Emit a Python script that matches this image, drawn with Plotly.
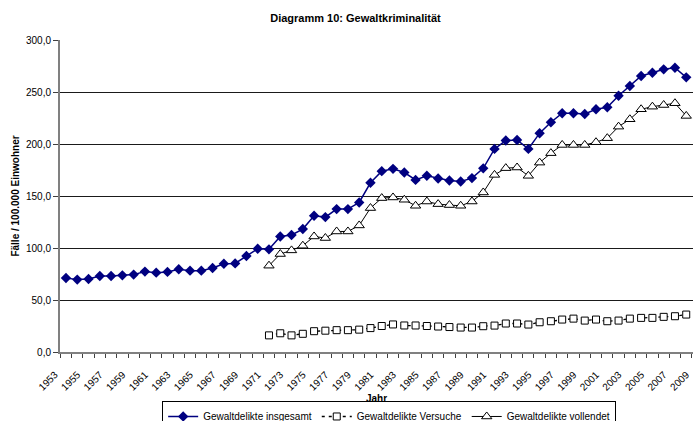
import plotly.graph_objects as go

years = list(range(1953, 2009))
insgesamt = [71.2, 69.6, 70.2, 73.1, 73.1, 73.7, 74.4, 77.3, 76.3, 77.0,
             79.5, 78.2, 78.2, 80.8, 84.9, 85.2, 92.3, 99.3, 98.7, 111.1,
             112.5, 118.2, 131.0, 129.7, 137.4, 137.4, 143.8, 162.7, 173.9, 176.1,
             172.6, 165.5, 169.4, 166.8, 164.9, 163.9, 167.2, 176.6, 195.3, 203.3,
             203.9, 195.3, 210.4, 220.9, 229.6, 229.6, 228.9, 233.4, 235.3, 246.4,
             255.8, 265.4, 268.5, 271.8, 273.3, 264.1]
sub_years = list(range(1971, 2009))
versuche = [16.0, 18.0, 16.0, 17.5, 20.0, 20.5, 21.0, 21.0, 21.5, 23.0,
            25.0, 26.5, 25.5, 25.5, 25.0, 24.5, 24.0, 23.5, 23.5, 24.8,
            25.4, 27.4, 27.4, 26.4, 28.6, 29.6, 31.2, 32.1, 30.2, 31.2,
            29.6, 30.2, 32.1, 32.8, 32.8, 33.8, 34.4, 36.0]
vollendet = [83.0, 94.2, 97.7, 102.2, 111.1, 109.6, 115.9, 115.9, 121.7, 138.4,
             148.0, 148.6, 146.4, 140.6, 144.7, 142.2, 141.3, 140.6, 144.7, 153.4,
             170.3, 176.8, 177.4, 169.4, 182.1, 191.2, 199.1, 199.1, 199.1, 201.7,
             205.6, 216.7, 223.8, 233.4, 235.9, 237.5, 239.2, 227.0]
label_years = list(range(1953, 2010, 2))

FONT = "Arial, Liberation Sans, sans-serif"

fig = go.Figure()
fig.add_trace(go.Scatter(
    x=years, y=insgesamt, name="Gewaltdelikte insgesamt", mode="lines+markers",
    line=dict(color="#000080", width=1.5),
    marker=dict(symbol="diamond", size=8, color="#000080",
                line=dict(color="#000080", width=0))))
fig.add_trace(go.Scatter(
    x=sub_years, y=versuche, name="Gewaltdelikte Versuche", mode="lines+markers",
    line=dict(color="black", width=1.3, dash="3px,4px"),
    marker=dict(symbol="square", size=7, color="white",
                line=dict(color="black", width=1))))
fig.add_trace(go.Scatter(
    x=sub_years, y=vollendet, name="Gewaltdelikte vollendet", mode="lines+markers",
    line=dict(color="black", width=1),
    marker=dict(symbol="triangle-up", size=9, color="white",
                line=dict(color="black", width=1))))

fig.update_layout(
    width=693, height=421,
    margin=dict(l=60, r=0, t=40, b=69, autoexpand=False),
    paper_bgcolor="white", plot_bgcolor="white",
    separators=",.",
    font=dict(family=FONT, size=10, color="black"),
    title=dict(text="<b>Diagramm 10: Gewaltkriminalität</b>",
               x=0.513, xanchor="center", y=0.958, yanchor="middle",
               font=dict(size=11, family=FONT, color="black")),
    showlegend=True,
    legend=dict(orientation="h", x=0.52, xanchor="center",
                y=-0.157, yanchor="top",
                bordercolor="black", borderwidth=1, bgcolor="white",
                font=dict(size=10, family=FONT), tracegroupgap=0,
                itemwidth=30),
)

fig.update_xaxes(
    automargin=False,
    range=[1952.47, 2008.6],
    tickmode="array",
    tickvals=[y - 0.45 for y in label_years],
    ticktext=[str(y) for y in label_years],
    tickangle=-45,
    ticks="outside", ticklen=0,
    ticklabelshift=-6, ticklabelstandoff=11,
    tickfont=dict(size=10, family=FONT),
    minor=dict(ticks="outside", ticklen=4, tickcolor="#404040",
               tick0=1952.5, dtick=1, showgrid=False),
    showgrid=False, zeroline=False,
    showline=True, linecolor="#808080", linewidth=2,
    title=dict(text="<b>Jahr</b>", font=dict(size=10, family=FONT), standoff=3),
)
fig.update_yaxes(
    automargin=False,
    range=[0, 300], dtick=50, tickformat=".1f",
    ticks="outside", ticklen=5, tickcolor="#404040",
    tickfont=dict(size=10, family=FONT),
    showgrid=True, gridcolor="#1a1a1a", gridwidth=1,
    zeroline=False,
    showline=True, linecolor="#808080", linewidth=2,
    title=dict(text="<b>Fälle / 100.000 Einwohner</b>",
               font=dict(size=10, family=FONT), standoff=4),
)

fig.write_html(
    "out.html",
    config={"displayModeBar": False},
    post_script="document.body.style.margin='0';document.body.style.overflow='hidden';",
)
